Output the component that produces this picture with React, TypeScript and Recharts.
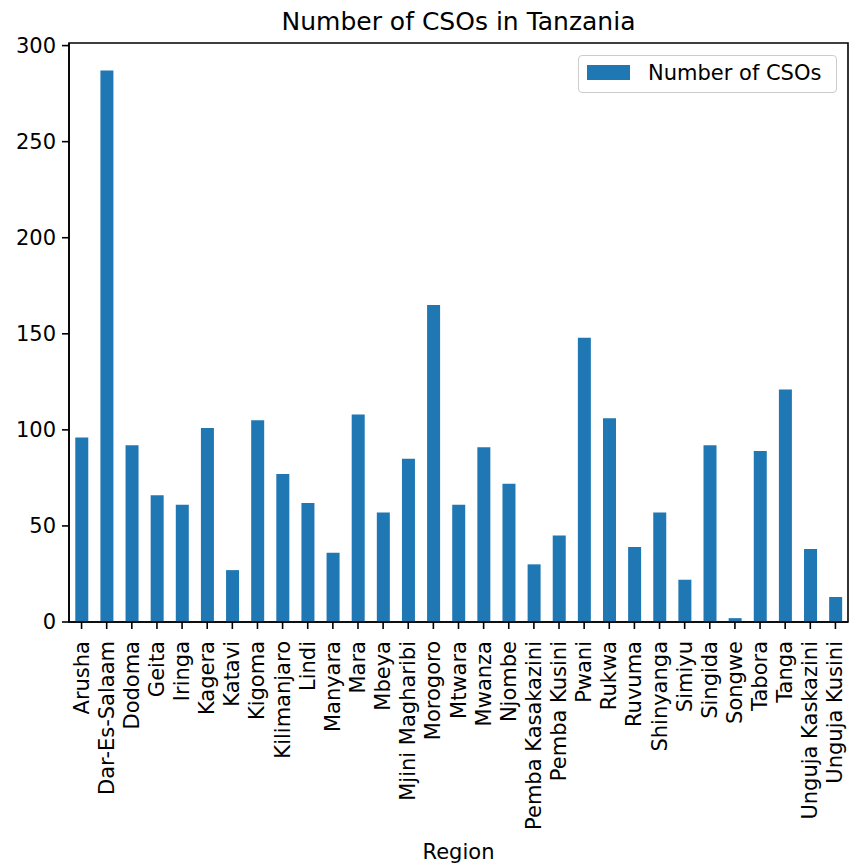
import React from "react";
import { Bar, BarChart, ReferenceArea, XAxis, YAxis } from "recharts";

const regions = [
  "Arusha", "Dar-Es-Salaam", "Dodoma", "Geita", "Iringa", "Kagera", "Katavi", "Kigoma",
  "Kilimanjaro", "Lindi", "Manyara", "Mara", "Mbeya", "Mjini Magharibi", "Morogoro", "Mtwara",
  "Mwanza", "Njombe", "Pemba Kasakazini", "Pemba Kusini", "Pwani", "Rukwa", "Ruvuma",
  "Shinyanga", "Simiyu", "Singida", "Songwe", "Tabora", "Tanga", "Unguja Kaskazini", "Unguja Kusini",
];
const csoCounts = [
  96, 287, 92, 66, 61, 101, 27, 105, 77, 62, 36, 108, 57, 85, 165, 61,
  91, 72, 30, 45, 148, 106, 39, 57, 22, 92, 2, 89, 121, 38, 13,
];
const yTicks = [0, 50, 100, 150, 200, 250, 300];
const Y_MAX = 301.35;

const data = regions.map((name, i) => ({ name, count: csoCounts[i] }));

const FONT = "'DejaVu Sans', sans-serif";

function RotatedTick(props: any) {
  const { x, y, payload } = props;
  return (
    <text
      transform={`translate(${x},${y + 10}) rotate(-90)`}
      textAnchor="end"
      dominantBaseline="central"
      fontSize={21}
      fill="#000"
      fontFamily={FONT}
    >
      {payload.value}
    </text>
  );
}

function LegendBox() {
  return (
    <div
      style={{
        position: "absolute",
        left: 578,
        top: 55,
        width: 259,
        height: 38,
        border: "1px solid #cccccc",
        borderRadius: 4,
        background: "rgba(255,255,255,0.8)",
        boxSizing: "border-box",
        fontFamily: FONT,
      }}
    >
      <div style={{ position: "absolute", left: 8, top: 9, width: 43, height: 15, background: "#1f77b4" }} />
      <div style={{ position: "absolute", left: 69, top: 3, fontSize: 21, lineHeight: "28px", color: "#000", whiteSpace: "nowrap" }}>
        Number of CSOs
      </div>
    </div>
  );
}

export default function App() {
  return (
    <div style={{ position: "fixed", left: 0, top: 0, width: 850, height: 865, background: "#fff", fontFamily: FONT }}>
      <div
        style={{
          position: "absolute",
          left: 69,
          width: 779,
          top: 6,
          textAlign: "center",
          fontSize: 25,
          lineHeight: "32px",
          color: "#000",
        }}
      >
        Number of CSOs in Tanzania
      </div>
      <BarChart
        width={850}
        height={865}
        data={data}
        margin={{ top: 43, right: 2, bottom: 0, left: 0 }}
        barCategoryGap="25%"
      >
        <XAxis
          dataKey="name"
          interval={0}
          height={243}
          tick={<RotatedTick />}
          tickSize={7}
          axisLine={{ stroke: "#000", strokeWidth: 1.6 }}
          tickLine={{ stroke: "#000", strokeWidth: 1.6 }}
          label={{ value: "Region", position: "insideBottom", offset: 6, fontSize: 21, fill: "#000", fontFamily: FONT }}
        />
        <YAxis
          domain={[0, Y_MAX]}
          ticks={yTicks}
          width={69}
          tickSize={7}
          tickMargin={6}
          allowDataOverflow
          tick={{ fontSize: 21, fill: "#000", fontFamily: FONT }}
          axisLine={{ stroke: "#000", strokeWidth: 1.6 }}
          tickLine={{ stroke: "#000", strokeWidth: 1.6 }}
        />
        <Bar dataKey="count" fill="#1f77b4" isAnimationActive={false} />
        <ReferenceArea
          y1={0}
          y2={Y_MAX}
          stroke="#000"
          strokeWidth={1.6}
          fill="none"
          fillOpacity={0}
          ifOverflow="visible"
        />
      </BarChart>
      <LegendBox />
    </div>
  );
}
